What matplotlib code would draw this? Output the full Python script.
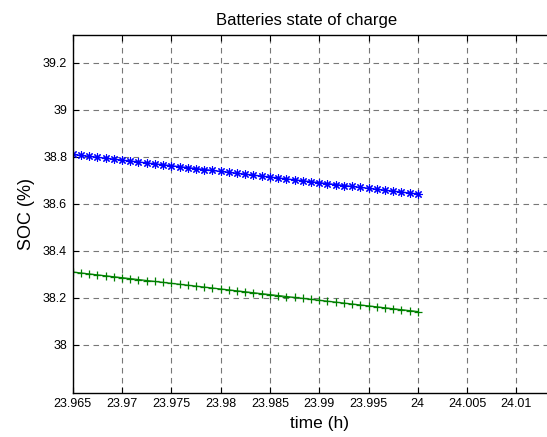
import matplotlib
matplotlib.use("Agg")
import matplotlib.pyplot as plt

plt.rcParams['font.family'] = ['Liberation Sans', 'DejaVu Sans']

# sample times in seconds (3 s step up to 24 h)
time_s = [86274, 86277, 86280, 86283, 86286, 86289, 86292, 86295, 86298, 86301,
          86304, 86307, 86310, 86313, 86316, 86319, 86322, 86325, 86328, 86331,
          86334, 86337, 86340, 86343, 86346, 86349, 86352, 86355, 86358, 86361,
          86364, 86367, 86370, 86373, 86376, 86379, 86382, 86385, 86388, 86391,
          86394, 86397, 86400]

soc_blue = [38.810, 38.806, 38.802, 38.798, 38.794, 38.790, 38.786, 38.782, 38.778, 38.774,
            38.770, 38.766, 38.762, 38.758, 38.754, 38.750, 38.746, 38.742, 38.738, 38.734,
            38.730, 38.726, 38.722, 38.718, 38.714, 38.710, 38.706, 38.702, 38.698, 38.694,
            38.690, 38.686, 38.682, 38.678, 38.674, 38.670, 38.666, 38.662, 38.658, 38.654,
            38.650, 38.646, 38.642]

soc_green = [38.310, 38.306, 38.302, 38.298, 38.294, 38.290, 38.286, 38.282, 38.278, 38.274,
             38.270, 38.266, 38.262, 38.258, 38.254, 38.250, 38.246, 38.242, 38.238, 38.234,
             38.230, 38.226, 38.222, 38.218, 38.214, 38.210, 38.206, 38.202, 38.198, 38.194,
             38.190, 38.186, 38.182, 38.178, 38.174, 38.170, 38.166, 38.162, 38.158, 38.154,
             38.150, 38.146, 38.142]

xticks = [23.965, 23.97, 23.975, 23.98, 23.985, 23.99, 23.995, 24, 24.005, 24.01]
xticklabels = ["23.965", "23.97", "23.975", "23.98", "23.985", "23.99", "23.995", "24", "24.005", "24.01"]
yticks = [38, 38.2, 38.4, 38.6, 38.8, 39, 39.2]
yticklabels = ["38", "38.2", "38.4", "38.6", "38.8", "39", "39.2"]

time_h = [t / 3600 for t in time_s]

fig = plt.figure(figsize=(5.47, 4.37), dpi=100)
ax = fig.add_axes([0.1329, 0.1014, 0.9013, 0.8185])

ax.plot(time_h, soc_blue, color="#0000ff", marker=(8, 2, 0), markersize=6,
        markeredgewidth=0.8, linewidth=1)
ax.plot(time_h, soc_green, color="#008000", marker="+", markersize=6,
        markeredgewidth=0.9, linewidth=0.9)

ax.set_xlim(23.965, 24.015)
ax.set_ylim(37.797, 39.318)
ax.set_xticks(xticks)
ax.set_xticklabels(xticklabels)
ax.set_yticks(yticks)
ax.set_yticklabels(yticklabels)

ax.grid(True, color="#555555", linestyle=(0, (5, 4)), linewidth=0.8, alpha=0.8)
ax.tick_params(direction="in", length=4, labelsize=9, top=True, right=True, pad=4)
for s in ax.spines.values():
    s.set_linewidth(1)

# figure is cropped on the right, so centre the title on the visible part
ax.set_title("Batteries state of charge", fontsize=12, pad=7, x=(307 - 72.7) / 493)
ax.xaxis.set_label_coords((312 - 72.7) / 493, -0.065)
ax.set_xlabel("time (h)", fontsize=12.5)
ax.set_ylabel("SOC (%)", fontsize=13, labelpad=6)

fig.savefig("out.png", dpi=100)
